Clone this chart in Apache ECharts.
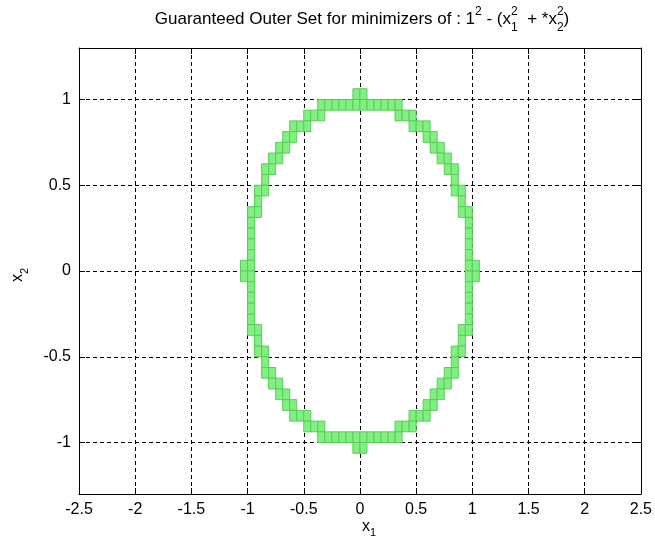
<!DOCTYPE html>
<html>
<head>
<meta charset="utf-8">
<script src="https://cdn.jsdelivr.net/npm/echarts@6/dist/echarts.min.js"></script>
<style>
html,body{margin:0;padding:0;background:#fff;}
#chart{width:655px;height:542px;}
</style>
</head>
<body>
<div id="chart"></div>
<script>
// ---- data ----
const xTicks = [-2.5, -2, -1.5, -1, -0.5, 0, 0.5, 1, 1.5, 2, 2.5];
const yTicks = [-1, -0.5, 0, 0.5, 1];
const boxSize = 0.0625;
// bottom edge (y) of each row of boxes
const rowY = [1, 0.9375, 0.875, 0.8125, 0.75, 0.6875, 0.625, 0.5625, 0.5, 0.4375, 0.375, 0.3125, 0.25, 0.1875, 0.125, 0.0625, 0,
  -0.0625, -0.125, -0.1875, -0.25, -0.3125, -0.375, -0.4375, -0.5, -0.5625, -0.625, -0.6875, -0.75, -0.8125, -0.875, -0.9375, -1, -1.0625];
// left edge (x) of each box in the matching row
const rowBoxX = [
  [-0.0625, 0],
  [-0.375, -0.3125, -0.25, -0.1875, -0.125, -0.0625, 0, 0.0625, 0.125, 0.1875, 0.25, 0.3125],
  [-0.5, -0.4375, -0.375, 0.3125, 0.375, 0.4375],
  [-0.625, -0.5625, -0.5, 0.4375, 0.5, 0.5625],
  [-0.6875, -0.625, 0.5625, 0.625],
  [-0.75, -0.6875, 0.625, 0.6875],
  [-0.8125, -0.75, 0.6875, 0.75],
  [-0.875, -0.8125, 0.75, 0.8125],
  [-0.875, 0.8125],
  [-0.9375, -0.875, 0.8125, 0.875],
  [-0.9375, 0.875],
  [-1, -0.9375, 0.875, 0.9375],
  [-1, 0.9375],
  [-1, 0.9375],
  [-1, 0.9375],
  [-1, 0.9375],
  [-1.0625, -1, 0.9375, 1],
  [-1.0625, -1, 0.9375, 1],
  [-1, 0.9375],
  [-1, 0.9375],
  [-1, 0.9375],
  [-1, 0.9375],
  [-1, -0.9375, 0.875, 0.9375],
  [-0.9375, 0.875],
  [-0.9375, -0.875, 0.8125, 0.875],
  [-0.875, 0.8125],
  [-0.875, -0.8125, 0.75, 0.8125],
  [-0.8125, -0.75, 0.6875, 0.75],
  [-0.75, -0.6875, 0.625, 0.6875],
  [-0.6875, -0.625, 0.5625, 0.625],
  [-0.625, -0.5625, -0.5, 0.4375, 0.5, 0.5625],
  [-0.5, -0.4375, -0.375, 0.3125, 0.375, 0.4375],
  [-0.375, -0.3125, -0.25, -0.1875, -0.125, -0.0625, 0, 0.0625, 0.125, 0.1875, 0.25, 0.3125],
  [-0.0625, 0]
];
const titlePieces = [
  {t: 'Guaranteed Outer Set for minimizers of : 1'},
  {sup: '2'},
  {t: ' - (x'},
  {sup: '2', sub: '1'},
  {t: '  + *x'},
  {sup: '2', sub: '2'},
  {t: ')'}
];

// ---- build ----
const boxes = [];
rowY.forEach((y, r) => rowBoxX[r].forEach(x => boxes.push([x, y])));

const FONT = '"Liberation Sans", Arial, sans-serif';
const MAIN = 16, SMALL = 11;
const T_MAIN = 17, T_SMALL = 12;
const ctx = document.createElement('canvas').getContext('2d');
function w(text, size) { ctx.font = size + 'px ' + FONT; return ctx.measureText(text).width; }

const plotLeft = 79, plotRight = 645, plotTop = 48, plotBottom = 494;
const cx = (plotLeft + plotRight) / 2;

// title layout
let total = 0;
const widths = titlePieces.map(p => {
  const ww = p.t !== undefined ? w(p.t, T_MAIN) : Math.max(w(p.sup || '', T_SMALL), w(p.sub || '', T_SMALL));
  total += ww; return ww;
});
const graphics = [];
let px = cx - total / 2;
const mainY = 19.5, supY = 11.5, subY = 27.5;
function txt(text, x, y, size, extra) {
  return Object.assign({
    type: 'text', x: x, y: y, silent: true,
    style: {text: text, fontSize: size, fontFamily: FONT, fill: '#000',
      textAlign: 'left', textVerticalAlign: 'middle', align: 'left', verticalAlign: 'middle'}
  }, extra || {});
}
titlePieces.forEach((p, k) => {
  if (p.t !== undefined) graphics.push(txt(p.t, px, mainY, T_MAIN));
  else {
    if (p.sup) graphics.push(txt(p.sup, px, supY, T_SMALL));
    if (p.sub) graphics.push(txt(p.sub, px, subY, T_SMALL));
  }
  px += widths[k];
});
// x label
const xw = w('x', MAIN);
graphics.push(txt('x', 362, 527, MAIN));
graphics.push(txt('1', 362 + xw, 533, SMALL));
// y label (rotated)
graphics.push({type: 'text', x: 18, y: 282, rotation: Math.PI / 2, silent: true,
  style: {text: 'x', fontSize: MAIN, fontFamily: FONT, fill: '#000',
    textAlign: 'left', textVerticalAlign: 'middle', align: 'left', verticalAlign: 'middle'}});
graphics.push({type: 'text', x: 25, y: 282 - xw, rotation: Math.PI / 2, silent: true,
  style: {text: '2', fontSize: SMALL, fontFamily: FONT, fill: '#000',
    textAlign: 'left', textVerticalAlign: 'middle', align: 'left', verticalAlign: 'middle'}});

const chart = echarts.init(document.getElementById('chart'), null, {renderer: 'canvas'});
const axisLineStyle = {show: true, onZero: false, lineStyle: {color: '#000', width: 1}};
const gridDash = {color: '#000', width: 1, type: [4, 3]};
const labelStyle = {color: '#000', fontSize: MAIN, fontFamily: FONT};

chart.setOption({
  animation: false,
  backgroundColor: '#fff',
  grid: {left: plotLeft, right: 655 - plotRight, top: plotTop, bottom: 542 - plotBottom, containLabel: false},
  xAxis: [
    {type: 'value', min: -2.5, max: 2.5, interval: 0.5, position: 'bottom',
      axisLine: axisLineStyle,
      axisTick: {show: true, inside: true, length: 6, lineStyle: {color: '#000'}},
      axisLabel: Object.assign({margin: 8, showMinLabel: true, showMaxLabel: true}, labelStyle),
      splitLine: {show: true, lineStyle: gridDash}},
    {type: 'value', min: -2.5, max: 2.5, interval: 0.5, position: 'top',
      axisLine: axisLineStyle,
      axisTick: {show: true, inside: true, length: 6, lineStyle: {color: '#000'}},
      axisLabel: {show: false}, splitLine: {show: false}}
  ],
  yAxis: [
    {type: 'value', min: -1.3, max: 1.3, position: 'left',
      axisLine: axisLineStyle,
      axisTick: {show: true, inside: true, length: 6, customValues: yTicks, lineStyle: {color: '#000'}},
      axisLabel: Object.assign({margin: 8, customValues: yTicks}, labelStyle),
      splitLine: {show: false}},
    {type: 'value', min: -1.3, max: 1.3, position: 'right',
      axisLine: axisLineStyle,
      axisTick: {show: true, inside: true, length: 6, customValues: yTicks, lineStyle: {color: '#000'}},
      axisLabel: {show: false}, splitLine: {show: false}}
  ],
  graphic: graphics,
  series: [
    {type: 'line', data: [], xAxisIndex: 0, yAxisIndex: 0, z: 1, silent: true,
      markLine: {silent: true, symbol: ['none', 'none'], label: {show: false},
        lineStyle: gridDash, animation: false,
        data: yTicks.map(v => ({yAxis: v}))}},
    {type: 'custom', xAxisIndex: 0, yAxisIndex: 0, z: 5, silent: true,
      data: boxes,
      encode: {x: 0, y: 1},
      renderItem: function (params, api) {
        const x0 = api.value(0), y0 = api.value(1);
        const p = api.coord([x0, y0 + boxSize]);
        const s = api.size([boxSize, boxSize]);
        return {type: 'rect', shape: {x: p[0], y: p[1], width: s[0], height: s[1]},
          style: {fill: '#80f080', stroke: '#5ccb5c', lineWidth: 1}};
      }}
  ]
});
</script>
</body>
</html>
